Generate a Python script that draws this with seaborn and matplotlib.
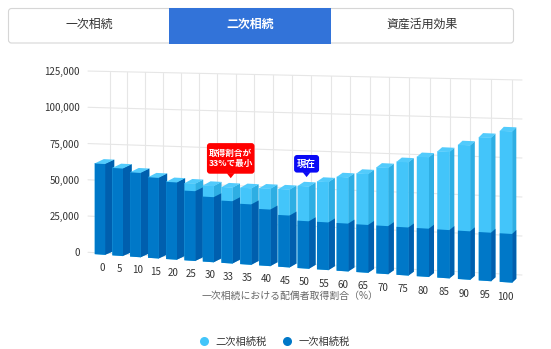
import numpy as np
import pandas as pd
import matplotlib
matplotlib.use("Agg")
import matplotlib.pyplot as plt
import matplotlib.transforms as mtransforms
from matplotlib.patches import Polygon, FancyBboxPatch, Rectangle
from matplotlib.lines import Line2D
import seaborn as sns

# 一次相続における配偶者取得割合（%）
shares = [0, 5, 10, 15, 20, 25, 30, 33, 35, 40, 45, 50, 55, 60, 65, 70, 75, 80, 85, 90, 95, 100]
# 一次相続税
first_tax = [62000, 59500, 57200, 54500, 52000, 46600, 43300, 41300, 39900, 37200, 34000,
             31000, 31000, 31000, 30900, 30900, 30800, 30800, 30700, 30700, 30600, 30600]
# 二次相続税
second_tax = [0, 0, 0, 0, 0, 5100, 7500, 9100, 10700, 13800, 17100,
              22800, 26400, 30000, 33000, 37600, 41900, 45700, 49800, 54500, 60000, 64500]
y_ticks = [0, 25000, 50000, 75000, 100000, 125000]
tabs = ["一次相続", "二次相続", "資産活用効果"]
active_tab = 1
series_names = ["二次相続税", "一次相続税"]
x_title = "一次相続における配偶者取得割合（%）"
min_share = 33
current_share = 50
min_note = "取得割合が\n33%で最小"
current_note = "現在"

LIGHT, LIGHT_SIDE, LIGHT_TOP = "#43c5fa", "#2eaee3", "#52cbfc"
DARK, DARK_SIDE = "#0078c8", "#005fae"
GRID = "#e6e6e6"
TEXT = "#333333"

W, H = 551, 349

# ---- pseudo-3D projection: (category position, value) -> canvas pixels ----
def front_x(X):
    X = np.asarray(X, float)
    return 100.0 + 17.55 * X + 0.085 * X ** 2

def base_y(cx):
    return 254.5 + 0.0684 * (cx - 100.0)

def px_per_unit(cx):
    return 0.00147 + 0.00012 * (cx - 100.0) / 406.0

def depth_dx(cx):
    return 9.0 - 5.0 * (cx - 100.0) / 406.0

DEPTH_DY = 4.0

def project(X, v):
    cx = front_x(X)
    return cx, base_y(cx) - np.asarray(v, float) * px_per_unit(cx)

def wall_y(x, v):
    t = (x - 88.0) / 434.0
    return 252.3 + 22.7 * t - v * (0.00145 + 0.00011 * t)

class Perspective(mtransforms.Transform):
    input_dims = 2
    output_dims = 2

    def transform_non_affine(self, values):
        values = np.asarray(values, float).reshape(-1, 2)
        cx, cy = project(values[:, 0], values[:, 1])
        return np.column_stack([cx, cy])


sns.set_theme(style="white")
plt.rcParams["font.family"] = ["Noto Sans CJK JP", "DejaVu Sans"]

fig = plt.figure(figsize=(W / 100, H / 100), dpi=100)
ax = fig.add_axes([0, 0, 1, 1])

totals = np.add(first_tax, second_tax)
df = pd.DataFrame({"share": [str(s) for s in shares], "first": first_tax, "total": totals})
order = df["share"].tolist()
sns.barplot(data=df, x="share", y="total", order=order, color=LIGHT, saturation=1,
            width=0.6, errorbar=None, linewidth=0, ax=ax)
sns.barplot(data=df, x="share", y="first", order=order, color=DARK, saturation=1,
            width=0.6, errorbar=None, linewidth=0, ax=ax)

ax.set_xlim(0, W)
ax.set_ylim(H, 0)
ax.set_axis_off()

proj = Perspective() + ax.transData
total_bars, first_bars = ax.containers[0], ax.containers[1]

for i, (tb, fb) in enumerate(zip(total_bars, first_bars)):
    z = 3 + i * 0.01
    for bar, front, side, zoff in ((tb, LIGHT, LIGHT_SIDE, 0.0), (fb, DARK, DARK_SIDE, 0.004)):
        bar.set_transform(proj)
        bar.set_facecolor(front)
        bar.set_edgecolor("none")
        bar.set_clip_on(False)
        bar.set_zorder(z + zoff + 0.002)
        x1 = bar.get_x() + bar.get_width()
        v0, v1 = bar.get_y(), bar.get_y() + bar.get_height()
        rx, ry_top = project(x1, v1)
        _, ry_bot = project(x1, v0)
        d = depth_dx(rx)
        ax.add_patch(Polygon([(rx - 0.3, ry_bot), (rx - 0.3, ry_top), (rx + d, ry_top - DEPTH_DY),
                              (rx + d, ry_bot - DEPTH_DY)], closed=True, facecolor=side,
                             edgecolor="none", zorder=z + zoff + 0.001, clip_on=False))
    # top face of the stacked column
    x0, x1 = tb.get_x(), tb.get_x() + tb.get_width()
    vt = tb.get_y() + tb.get_height()
    lx, ly = project(x0, vt)
    rx, ry = project(x1, vt)
    ax.add_patch(Polygon([(lx, ly + 0.3), (rx, ry + 0.3), (rx + depth_dx(rx), ry - DEPTH_DY),
                          (lx + depth_dx(lx), ly - DEPTH_DY)], closed=True, facecolor=LIGHT_TOP,
                         edgecolor="none", zorder=z + 0.009, clip_on=False))

# back wall grid
for v in y_ticks:
    ax.plot([88, 522], [wall_y(88, v), wall_y(522, v)], color=GRID, lw=0.8, zorder=1)
for u in range(len(shares)):
    gx = 110 + 17.38 * u + 0.0833 * u * u
    ax.plot([gx, gx], [wall_y(gx, 0), wall_y(gx, y_ticks[-1])], color=GRID, lw=0.8, zorder=1)

# y tick labels
for v in y_ticks:
    ax.text(80, wall_y(88, v) + 1, f"{v:,}", ha="right", va="center", fontsize=7, color=TEXT)

# x tick labels
for i, s in enumerate(shares):
    cx, cy = project(i, -9000)
    ax.text(cx + depth_dx(cx) / 2 - 2.3, cy, str(s), ha="center", va="center",
            fontsize=7, color=TEXT, zorder=5)

ax.text(290, 296, x_title, ha="center", va="center", fontsize=7.1, color="#666666", zorder=4)


# callouts above the bars
def callout(share, text, color, w, h, fs):
    idx = shares.index(share)
    cx, top = project(idx, totals[idx])
    tip_x = float(cx + depth_dx(cx) / 2)
    tip_y = float(top) - 9
    bottom = tip_y - 4.5
    ax.add_patch(FancyBboxPatch((tip_x - w / 2, bottom - h), w, h,
                                boxstyle="round,pad=0,rounding_size=3", fc=color, ec="none",
                                zorder=20))
    ax.add_patch(Polygon([(tip_x - 4, bottom - 0.5), (tip_x + 4, bottom - 0.5), (tip_x, tip_y)],
                         closed=True, fc=color, ec="none", zorder=20))
    ax.text(tip_x, bottom - h / 2, text, ha="center", va="center", color="white",
            fontsize=fs, fontweight="bold", linespacing=1.25, zorder=21)


callout(min_share, min_note, "#ff0000", 47.6, 30.6, 6.2)
callout(current_share, current_note, "#0a0af5", 25, 17.6, 6.8)

# tabs
ax.add_patch(FancyBboxPatch((8.5, 8.5), 505, 34.5, boxstyle="round,pad=0,rounding_size=3",
                            fc="white", ec="#d6d6d6", lw=0.8, zorder=30))
ax.add_patch(Rectangle((169, 8), 162, 35.5, fc="#3273d9", ec="none", zorder=31))
for k, (t, tx) in enumerate(zip(tabs, [89, 250, 422])):
    active = k == active_tab
    ax.text(tx, 24.5, t, ha="center", va="center", fontsize=8.6,
            color="white" if active else TEXT, fontweight="bold" if active else "normal",
            zorder=32)

# legend
handles = [Line2D([], [], ls="none", marker="o", markersize=6.5, color=c, markeredgewidth=0)
           for c in (LIGHT, DARK)]
fig.legend(handles, series_names, loc="center", bbox_to_anchor=(274.7 / W, 1 - 342 / H),
           ncol=2, frameon=False, fontsize=7.4, handlelength=0.8, handletextpad=0.7,
           columnspacing=1.6, labelcolor=TEXT)

fig.savefig("out.png", dpi=100)
